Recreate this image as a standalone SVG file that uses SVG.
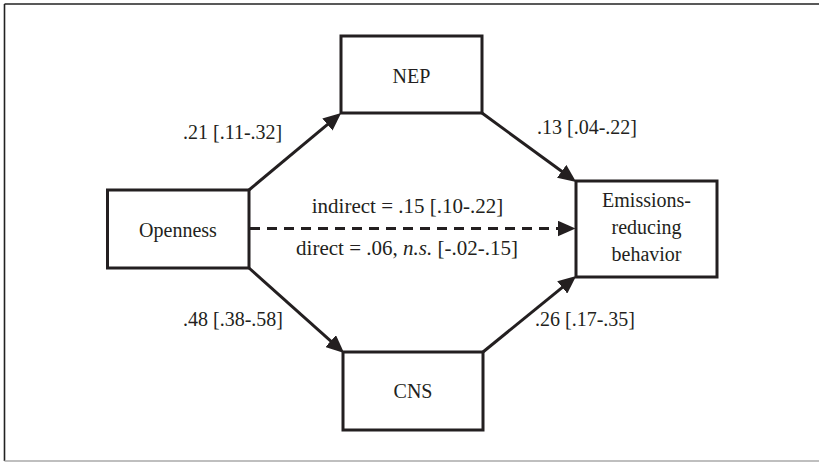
<svg xmlns="http://www.w3.org/2000/svg" width="819" height="462" viewBox="0 0 819 462">
<style>
.box{fill:#fff;stroke:#231f20;stroke-width:3}
.e{stroke:#231f20;stroke-width:3;fill:none}
</style>
<defs>
<marker id="ah" markerUnits="userSpaceOnUse" markerWidth="18" markerHeight="16" refX="8" refY="7.5" orient="auto" viewBox="0 0 17 15">
<path d="M0,0 L17,7.5 L0,15 z" fill="#231f20"/>
</marker>
</defs>
<rect x="0" y="0" width="819" height="462" fill="#fff"/>
<line x1="4.5" y1="4" x2="819" y2="4" stroke="#222" stroke-width="1.6"/>
<line x1="4.5" y1="4" x2="4.5" y2="461" stroke="#222" stroke-width="1.6"/>
<line x1="4.5" y1="461" x2="819" y2="461" stroke="#aaa" stroke-width="1.5"/>
<g font-family="Liberation Serif" font-size="20" fill="#231f20">
<g id="connectors">
<line class="e" x1="249" y1="190" x2="333.9" y2="119.1" marker-end="url(#ah)"/>
<line class="e" x1="482" y1="113" x2="568.5" y2="176.3" marker-end="url(#ah)"/>
<line class="e" x1="249" y1="268" x2="337" y2="346.7" marker-end="url(#ah)"/>
<line class="e" x1="483" y1="352" x2="568.8" y2="282.1" marker-end="url(#ah)"/>
<line class="e" x1="250" y1="228.5" x2="566" y2="228.5" stroke-dasharray="10 7" marker-end="url(#ah)"/>
<text x="183" y="139">.21 [.11-.32]</text>
<text x="537" y="134">.13 [.04-.22]</text>
<text x="183" y="326">.48 [.38-.58]</text>
<text x="535" y="326">.26 [.17-.35]</text>
<text text-anchor="middle" x="407.5" y="213" font-size="21">indirect = .15 [.10-.22]</text>
<text text-anchor="middle" x="407" y="255" font-size="21">direct = .06, <tspan font-style="italic">n.s.</tspan> [-.02-.15]</text>
</g>
<g id="nep"><rect class="box" x="341" y="36" width="141" height="77"/><text text-anchor="middle" x="411.5" y="83">NEP</text></g>
<g id="openness"><rect class="box" x="107.5" y="190" width="141.5" height="78"/><text text-anchor="middle" x="178" y="237">Openness</text></g>
<g id="cns"><rect class="box" x="343" y="352" width="140" height="78"/><text text-anchor="middle" x="413" y="398">CNS</text></g>
<g id="emissions"><rect class="box" x="576" y="181" width="141" height="96"/><text text-anchor="middle" x="646.5" y="207">Emissions-</text><text text-anchor="middle" x="646.5" y="234">reducing</text><text text-anchor="middle" x="646.5" y="261">behavior</text></g>
</g>
</svg>
